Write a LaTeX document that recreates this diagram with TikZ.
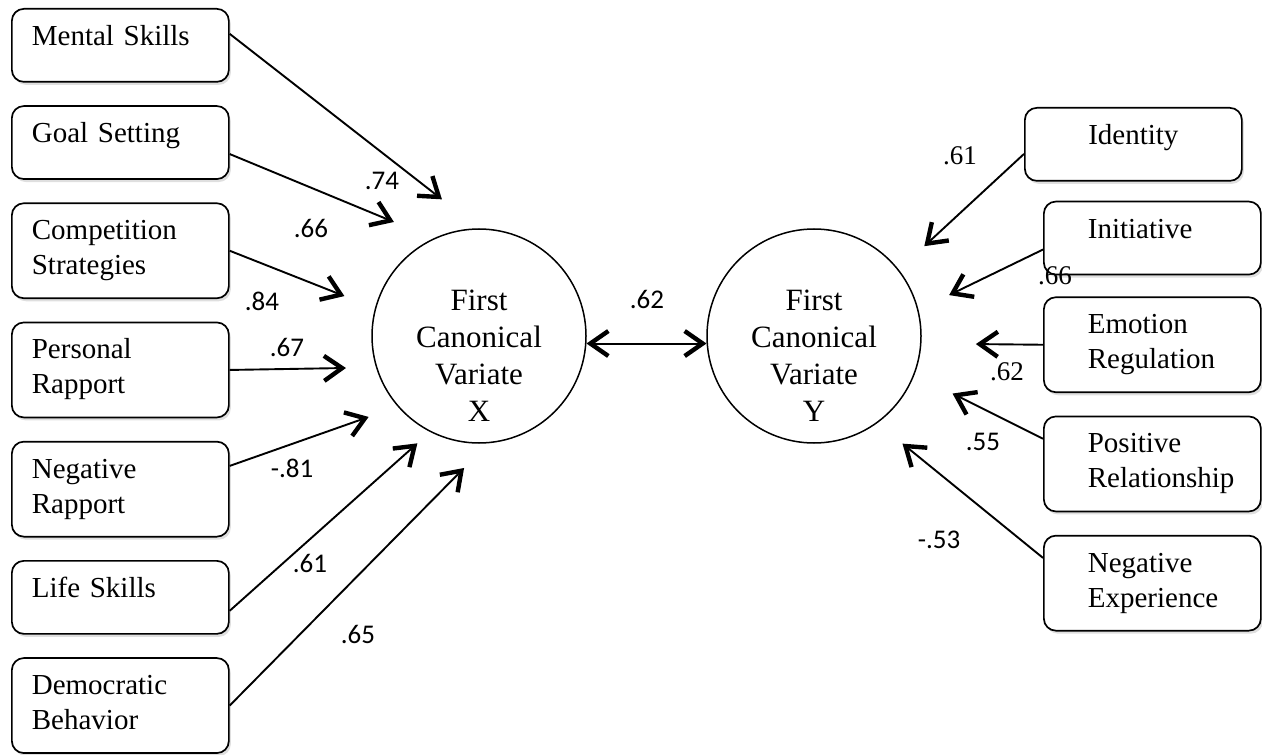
\documentclass[tikz,border=0pt]{standalone}
\usepackage{fontspec}
\setmainfont{Liberation Serif}
\newfontfamily\numfont{Carlito}
\usepackage{tikz}
\usetikzlibrary{positioning,arrows.meta,shadows}
\hyphenpenalty=10000
\hfuzz=60pt
\hbadness=10000

\begin{document}
\begin{tikzpicture}[x=0.5pt, y=-0.5pt, node distance=11.25pt,
    >={Straight Barb[length=9pt,width=12.5pt,line width=2.2pt]},
    var box/.style={draw, fill=white, rounded corners=6pt, line width=0.85pt, inner ysep=0pt, text height=18.25pt,
        drop shadow={shadow xshift=1pt, shadow yshift=-1.5pt, opacity=0.25},
        font=\fontsize{14.5pt}{17.5pt}\selectfont},
    lbox/.style={var box, align=left, text width=88.5pt, inner xsep=10pt},
    rbox/.style={var box, align=left, text width=64.5pt, inner xsep=22pt},
    one line/.style={text depth=18.25pt},
    two lines/.style={text depth=29.25pt},
    variate/.style={draw, circle, line width=0.75pt, minimum size=107pt, inner sep=0pt, align=center,
        text width=70pt, text height=10pt, text depth=36pt, font=\fontsize{15.5pt}{18.5pt}\selectfont},
    link/.style={->, line width=0.95pt},
    coef/.style={inner sep=0pt, font=\numfont\fontsize{13.5pt}{15pt}\selectfont},
    coef serif/.style={inner sep=0pt, font=\fontsize{13.5pt}{15pt}\selectfont}]
    \useasboundingbox (0,0) rectangle (1262,754);

    % coach side
    \node[lbox, one line, anchor=north west] (ms) at (11,8) {Mental Skills};
    \node[lbox, one line, below=of ms] (gs) {Goal Setting};
    \node[lbox, two lines, below=of gs] (cs) {Competition\\Strategies};
    \node[lbox, two lines, below=of cs] (pr) {Personal\\Rapport};
    \node[lbox, two lines, below=of pr] (nr) {Negative\\Rapport};
    \node[lbox, one line, below=of nr] (ls) {Life Skills};
    \node[lbox, two lines, below=of ls] (db) {Democratic\\Behavior};

    % athlete side
    \node[var box, one line, align=center, text width=88.5pt, inner xsep=10pt, anchor=north west] (id) at (1024,107) {Identity};
    \node[rbox, one line, below=9.5pt of id, xshift=9.5pt] (in) {Initiative};
    \node[rbox, two lines, below=10.5pt of in] (er) {Emotion\\Regulation};
    \node[rbox, two lines, below=of er] (pos) {Positive\\Relationship};
    \node[rbox, two lines, below=of pos] (ne) {Negative\\Experience};

    \node[variate] (cx) at (479,336) {First\\Canonical\\Variate\\X};
    \node[variate] (cy) at (814,336) {First\\Canonical\\Variate\\Y};

    \draw[link, shorten >=23.5pt] (ms.6) -- (cx.90);
    \draw[link, shorten >=21.4pt] (gs.-6.6) -- (cx.115.8);
    \draw[link, shorten >=16.4pt] (cs.east) -- (cx.165.8);
    \draw[link, shorten >=15pt] (pr.east) -- (cx.197.4);
    \draw[link, shorten >=15.4pt] (nr.12.7) -- (cx.221.8);
    \draw[link, shorten >=8.5pt] (ls.-7.1) -- (cx.243.7);
    \draw[link, shorten >=17.3pt] (db.east) -- (cx.275.7);

    \draw[link, shorten >=17.3pt] (id.185.3) -- (cy.38.1);
    \draw[link, shorten >=17pt] (in.186.3) -- (cy.14.9);
    \draw[link, shorten >=27.2pt] (er.west) -- (cy.-4.6);
    \draw[link, shorten >=21.2pt] (pos.167.3) -- (cy.-21);
    \draw[link, shorten >=16.2pt] (ne.167.3) -- (cy.-54.2);

    \draw[link, <->, line width=1pt] (cx.-4.8) -- (cy.184.8);

    % loadings
    \node[coef] (lms) at (382,181) {.74};
    \node[coef] (lgs) at (311,228) {.66};
    \node[coef] (lcs) at (262,301) {.84};
    \node[coef] (lpr) at (287,347) {.67};
    \node[coef] (lnr) at (292,468) {-.81};
    \node[coef] (lls) at (310,563) {.61};
    \node[coef] (ldb) at (358,634) {.65};
    \node[coef] (lxy) at (647,299) {.62};
    \node[coef serif] (lid) at (960,156) {.61};
    \node[coef serif] (lin) at (1055,276) {.66};
    \node[coef serif] (ler) at (1007,372) {.62};
    \node[coef] (lpos) at (983,442) {.55};
    \node[coef] (lne) at (939,540) {-.53};
\end{tikzpicture}
\end{document}
